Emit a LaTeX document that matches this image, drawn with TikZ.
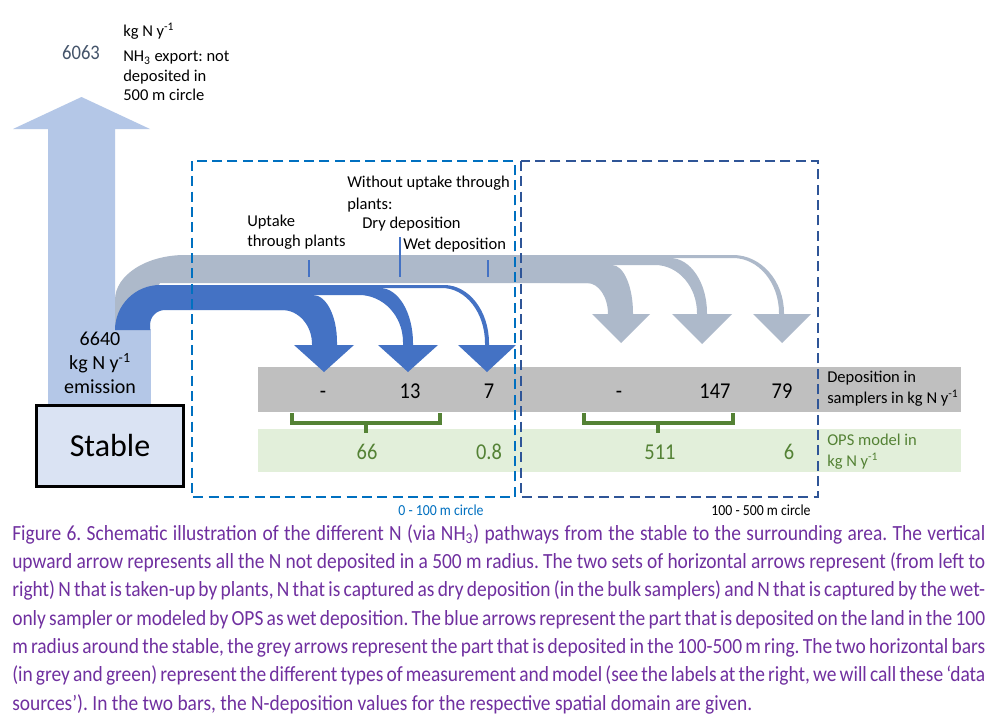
\documentclass[tikz,border=0pt]{standalone}
\usepackage{fontspec}
\setmainfont{Carlito}
\newfontfamily\capfont[FakeStretch=0.9]{Carlito}
\usetikzlibrary{positioning}
\definecolor{emitblue}{HTML}{B4C7E7}
\definecolor{deepblue}{HTML}{4472C4}
\definecolor{greyblue}{HTML}{ADB9CA}
\definecolor{ringblue}{HTML}{0070C0}
\definecolor{ringdark}{HTML}{2F5597}
\definecolor{stablefill}{HTML}{DAE3F3}
\definecolor{sampgrey}{HTML}{BFBFBF}
\definecolor{opsfill}{HTML}{E2EFDA}
\definecolor{opsgreen}{HTML}{548235}
\definecolor{capviolet}{HTML}{7030A0}
\definecolor{exportgrey}{HTML}{44546A}
\newcommand{\kgN}{kg N y\textsuperscript{-1}}
\newcommand{\capline}[1]{\makebox[729.75pt][s]{#1}}
\frenchspacing

\begin{document}
\begin{tikzpicture}[
    x=0.75pt, y=-0.75pt,
    every node/.style={inner sep=0pt, font=\fontsize{12.4}{15.5}\selectfont},
    lbl/.style ={anchor=west, align=left},
    num/.style ={anchor=base, font=\capfont\fontsize{17}{20}\selectfont},
    opsnum/.style={num, text=opsgreen},
    ring/.style={line width=1.5pt, dash pattern=on 7.5pt off 4pt},
    bracket/.style={opsgreen, line width=2.3pt},
    leader/.style={deepblue, line width=0.8pt},
    capt/.style={anchor=base west, text=capviolet,
                 font=\capfont\fontsize{16.2}{18}\selectfont},
]
\useasboundingbox (0,0) rectangle (1000,725);
\fill[white] (0,0) rectangle (1000,725);

% --- data bars ---
\fill[sampgrey] (258,367) rectangle (961,412);
\fill[opsfill]  (258,429) rectangle (961,472);

% --- emission column and export arrow ---
\fill[emitblue] (48,330) -- (48,129) -- (13,129) -- (81.5,97) -- (150,129)
    -- (115,129) -- (115,330) -- cycle;
\fill[emitblue] (48,329) rectangle (151,405);

% --- grey arrows: 100 - 500 m ---
\fill[greyblue] (115,330) -- (115,300) arc[start angle=180, end angle=270, x radius=70, y radius=45]
    -- (610,255) -- (610,283) -- (160,283) -- (150,300) -- (150,330) -- cycle;
\fill[greyblue] (560,265) -- (612,265) arc[start angle=270, end angle=360, x radius=21, y radius=48]
    -- (633,314) -- (650,314) -- (621,343) -- (592,314) -- (608,314)
    arc[start angle=0, end angle=-90, x radius=21, y radius=31] -- (560,283) -- cycle;
\fill[greyblue] (600,258) -- (670,258) arc[start angle=270, end angle=360, x radius=37, y radius=55]
    -- (707,314) -- (732,314) -- (702,344) -- (672,314) -- (697,314) -- (697,313)
    arc[start angle=0, end angle=-90, x radius=42, y radius=48] -- (600,265) -- cycle;
\fill[greyblue] (600,255) -- (733,255) arc[start angle=270, end angle=360, x radius=51, y radius=58]
    -- (784,314) -- (811,314) -- (782,343) -- (753,314) -- (779,314) -- (779,313)
    arc[start angle=0, end angle=-90, x radius=46, y radius=55] -- (600,258) -- cycle;

% --- blue arrows: 0 - 100 m ---
\fill[deepblue] (115,330) arc[start angle=180, end angle=270, radius=45] -- (290,285) -- (290,310)
    -- (165,310) arc[start angle=270, end angle=180, radius=15] -- (150,330) -- cycle;
\fill[deepblue] (250,295) -- (313,295) arc[start angle=270, end angle=360, x radius=24, y radius=47]
    -- (337,345) -- (354,345) -- (324,372) -- (294,345) -- (312,345) -- (312,344)
    arc[start angle=0, end angle=-90, x radius=30, y radius=34] -- (250,310) -- cycle;
\fill[deepblue] (250,288) -- (380,288) arc[start angle=270, end angle=360, x radius=33, y radius=55]
    -- (413,345) -- (438,345) -- (408,372) -- (378,345) -- (403,345) -- (403,342)
    arc[start angle=0, end angle=-90, x radius=44, y radius=47] -- (250,295) -- cycle;
\fill[deepblue] (250,285) -- (444,285) arc[start angle=270, end angle=360, x radius=45, y radius=58]
    -- (489,345) -- (516,345) -- (487,372) -- (458,345) -- (485,345) -- (485,343)
    arc[start angle=0, end angle=-90, x radius=43, y radius=55] -- (250,288) -- cycle;

% leader lines to the bands
\draw[leader] (309,260) -- (309,277);
\draw[leader] (400,237) -- (400,277);
\draw[leader] (488,260) -- (488,277);

% --- stable ---
\node[draw, line width=2.2pt, fill=stablefill, minimum width=110pt, minimum height=61pt,
      font=\fontsize{24}{28}\selectfont] (stable) at (110,446) {Stable};

% --- brackets between the bars ---
\draw[bracket] (292,413) -- (292,423) -- (440,423) -- (440,413);
\draw[bracket] (366,423) -- (366,433);
\draw[bracket] (584,413) -- (584,423) -- (733,423) -- (733,413);
\draw[bracket] (658,423) -- (658,433);

% --- the two circles ---
\draw[ring, ringblue] (192,161) rectangle (515,497);
\draw[ring, ringdark] (521,161) rectangle (818,497);

% --- labels ---
\node[text=exportgrey, font=\capfont\fontsize{15.5}{18}\selectfont] (export) at (81,53) {6063};
\node[lbl] (exportunit) at (123,31) {\kgN};
\node[lbl, font=\fontsize{12.4}{14.6}\selectfont] (exportnote) at (123,76)
     {NH\textsubscript{3} export: not\\deposited in\\500 m circle};
\node[align=center, font=\fontsize{15}{18}\selectfont] (emission) at (100,363)
     {6640\\\kgN\\emission};
\node[lbl, font=\fontsize{12.4}{16.5}\selectfont] (without) at (347,194)
     {Without uptake through\\plants:};
\node[lbl, font=\fontsize{12.4}{15}\selectfont] (uptake) at (247,232) {Uptake\\through plants};
\node[lbl] (dry) at (362,224) {Dry deposition};
\node[lbl] (wet) at (403,245) {Wet deposition};

\node[num] (s1) at (323,398) {-};
\node[num] (s2) at (410,398) {13};
\node[num] (s3) at (489,398) {7};
\node[num] (s4) at (619,398) {-};
\node[num] (s5) at (715,398) {147};
\node[num] (s6) at (782,398) {79};
\node[opsnum] (m1) at (367,459) {66};
\node[opsnum] (m2) at (489,459) {0.8};
\node[opsnum] (m3) at (660,459) {511};
\node[opsnum] (m4) at (789,459) {6};

\node[lbl] (samplers) at (827,388.5) {Deposition in\\samplers in \kgN};
\node[lbl, text=opsgreen] (ops) at (827,452) {OPS model in\\\kgN};

\node[text=ringblue, font=\capfont\fontsize{11.5}{14}\selectfont] (inner) at (441,510) {0 - 100 m circle};
\node[font=\capfont\fontsize{11.5}{14}\selectfont] (outer) at (761,510) {100 - 500 m circle};

% --- caption ---
\node[capt] (cap1) at (12,540) {\capline{Figure 6. Schematic illustration of the different N (via NH\textsubscript{3}) pathways from the stable to the surrounding area. The vertical}};
\node[capt] (cap2) at (12,568) {\capline{upward arrow represents all the N not deposited in a 500 m radius. The two sets of horizontal arrows represent (from left to}};
\node[capt] (cap3) at (12,596) {\capline{right) N that is taken-up by plants, N that is captured as dry deposition (in the bulk samplers) and N that is captured by the wet-}};
\node[capt] (cap4) at (12,625) {\capline{only sampler or modeled by OPS as wet deposition. The blue arrows represent the part that is deposited on the land in the 100}};
\node[capt] (cap5) at (12,653) {\capline{m radius around the stable, the grey arrows represent the part that is deposited in the 100-500 m ring. The two horizontal bars}};
\node[capt] (cap6) at (12,681) {\capline{(in grey and green) represent the different types of measurement and model (see the labels at the right, we will call these ‘data}};
\node[capt] (cap7) at (12,710) {sources’). In the two bars, the N-deposition values for the respective spatial domain are given.};
\end{tikzpicture}
\end{document}
